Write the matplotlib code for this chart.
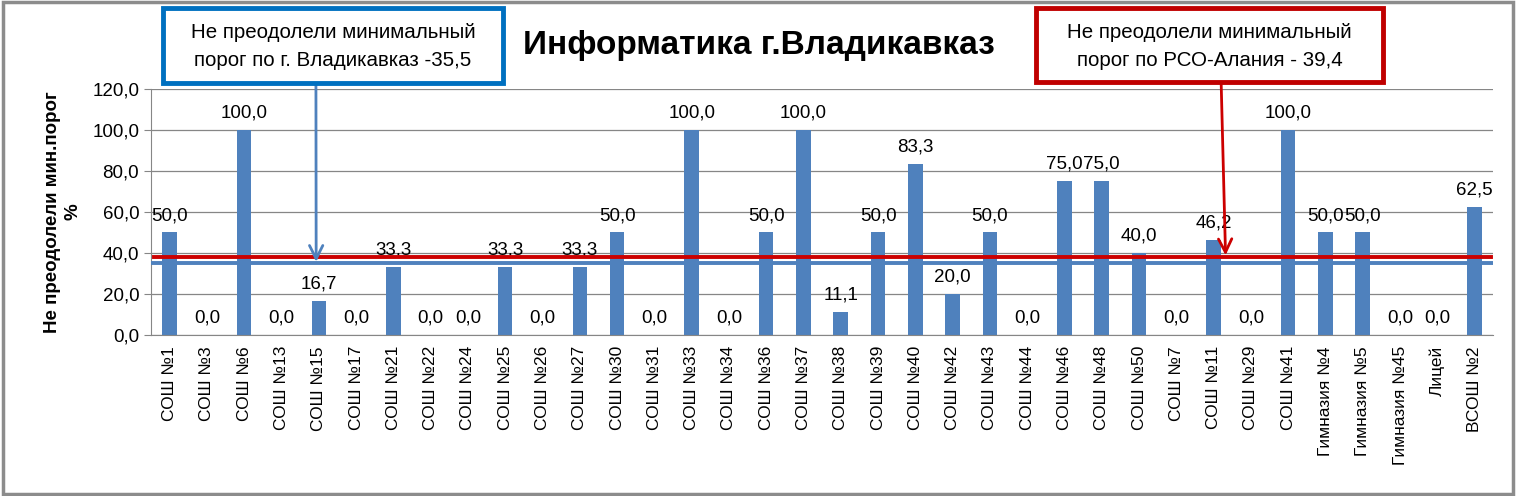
import matplotlib.pyplot as plt
from matplotlib.patches import Rectangle

plt.rcParams['font.family'] = ['Liberation Sans', 'DejaVu Sans']

schools = ["СОШ №1", "СОШ №3", "СОШ №6", "СОШ №13", "СОШ №15", "СОШ №17",
           "СОШ №21", "СОШ №22", "СОШ №24", "СОШ №25", "СОШ №26", "СОШ №27",
           "СОШ №30", "СОШ №31", "СОШ №33", "СОШ №34", "СОШ №36", "СОШ №37",
           "СОШ №38", "СОШ №39", "СОШ №40", "СОШ №42", "СОШ №43", "СОШ №44",
           "СОШ №46", "СОШ №48", "СОШ №50", "СОШ №7", "СОШ №11", "СОШ №29",
           "СОШ №41", "Гимназия №4", "Гимназия №5", "Гимназия №45", "Лицей",
           "ВСОШ №2"]
values = [50.0, 0.0, 100.0, 0.0, 16.7, 0.0, 33.3, 0.0, 0.0, 33.3, 0.0, 33.3,
          50.0, 0.0, 100.0, 0.0, 50.0, 100.0, 11.1, 50.0, 83.3, 20.0, 50.0, 0.0,
          75.0, 75.0, 40.0, 0.0, 46.2, 0.0, 100.0, 50.0, 50.0, 0.0, 0.0, 62.5]
# threshold lines as drawn on the picture
city_line = 35.0
region_line = 38.0
city_text = "Не преодолели минимальный\nпорог по г. Владикавказ -35,5"
region_text = "Не преодолели минимальный\nпорог по РСО-Алания - 39,4"
yticks = [0, 20, 40, 60, 80, 100, 120]

def fmt(v):
    return ("%.1f" % v).replace(".", ",")

fig = plt.figure(figsize=(15.16, 4.96), dpi=100)
fig.patches.append(Rectangle((0.002, 0.004), 0.996, 0.992, transform=fig.transFigure,
                             fill=False, edgecolor='#8c8c8c', linewidth=2.5))
ax = fig.add_axes([0.0996, 0.3246, 0.8854, 0.4966])

x = list(range(len(schools)))
ax.bar(x, values, width=0.39, color='#4F81BD', zorder=2)
for xi, v in zip(x, values):
    ax.annotate(fmt(v), (xi, v), xytext=(0, 6), textcoords='offset points',
                ha='center', va='bottom', fontsize=13.5)

ax.set_xlim(-0.5, len(schools) - 0.5)
ax.set_ylim(0, 120)
ax.set_yticks(yticks)
ax.set_yticklabels([fmt(t) for t in yticks], fontsize=13.5)
ax.set_xticks(x)
ax.set_xticklabels(schools, rotation=90, fontsize=12.5)
ax.tick_params(axis='x', length=0, pad=8)
ax.tick_params(axis='y', length=5, color='#868686')
ax.yaxis.grid(True, color='#868686', linewidth=0.9, zorder=0)
for s in ['top', 'right']:
    ax.spines[s].set_visible(False)
for s in ['left', 'bottom']:
    ax.spines[s].set_color('#868686')

ax.axhline(city_line, xmin=0, xmax=1.0, color='#4F81BD', linewidth=2.8, zorder=3)
ax.axhline(region_line, xmin=0.002, xmax=0.998, color='#CC0000', linewidth=2.8, zorder=3)

ax.set_ylabel("Не преодолели мин.порог\n%", fontsize=13.5, fontweight='bold', labelpad=8)

fig.text(0.5007, 0.908, "Информатика г.Владикавказ", ha='center', va='center',
         fontsize=24, fontweight='bold')

# callout boxes
fig.patches.append(Rectangle((0.1075, 0.8327), 0.2243, 0.1512, transform=fig.transFigure,
                             facecolor='white', edgecolor='#0070C0', linewidth=3.5))
fig.patches.append(Rectangle((0.6834, 0.8347), 0.2289, 0.1492, transform=fig.transFigure,
                             facecolor='white', edgecolor='#C00000', linewidth=3.5))
fig.text(0.2197, 0.906, city_text, ha='center', va='center', fontsize=14.8,
         linespacing=1.6)
fig.text(0.7978, 0.907, region_text, ha='center', va='center', fontsize=14.8,
         linespacing=1.6)

ax.annotate("", xy=(3.93, city_line + 0.6), xycoords='data',
            xytext=(0.2084, 0.8327), textcoords='figure fraction',
            arrowprops=dict(arrowstyle='->', color='#4F81BD', lw=2,
                            mutation_scale=24, shrinkA=0, shrinkB=0), zorder=4)
ax.annotate("", xy=(28.32, region_line + 0.8), xycoords='data',
            xytext=(0.8055, 0.8347), textcoords='figure fraction',
            arrowprops=dict(arrowstyle='->', color='#CC0000', lw=2,
                            mutation_scale=24, shrinkA=0, shrinkB=0), zorder=4)

fig.savefig("out.png", dpi=100)
